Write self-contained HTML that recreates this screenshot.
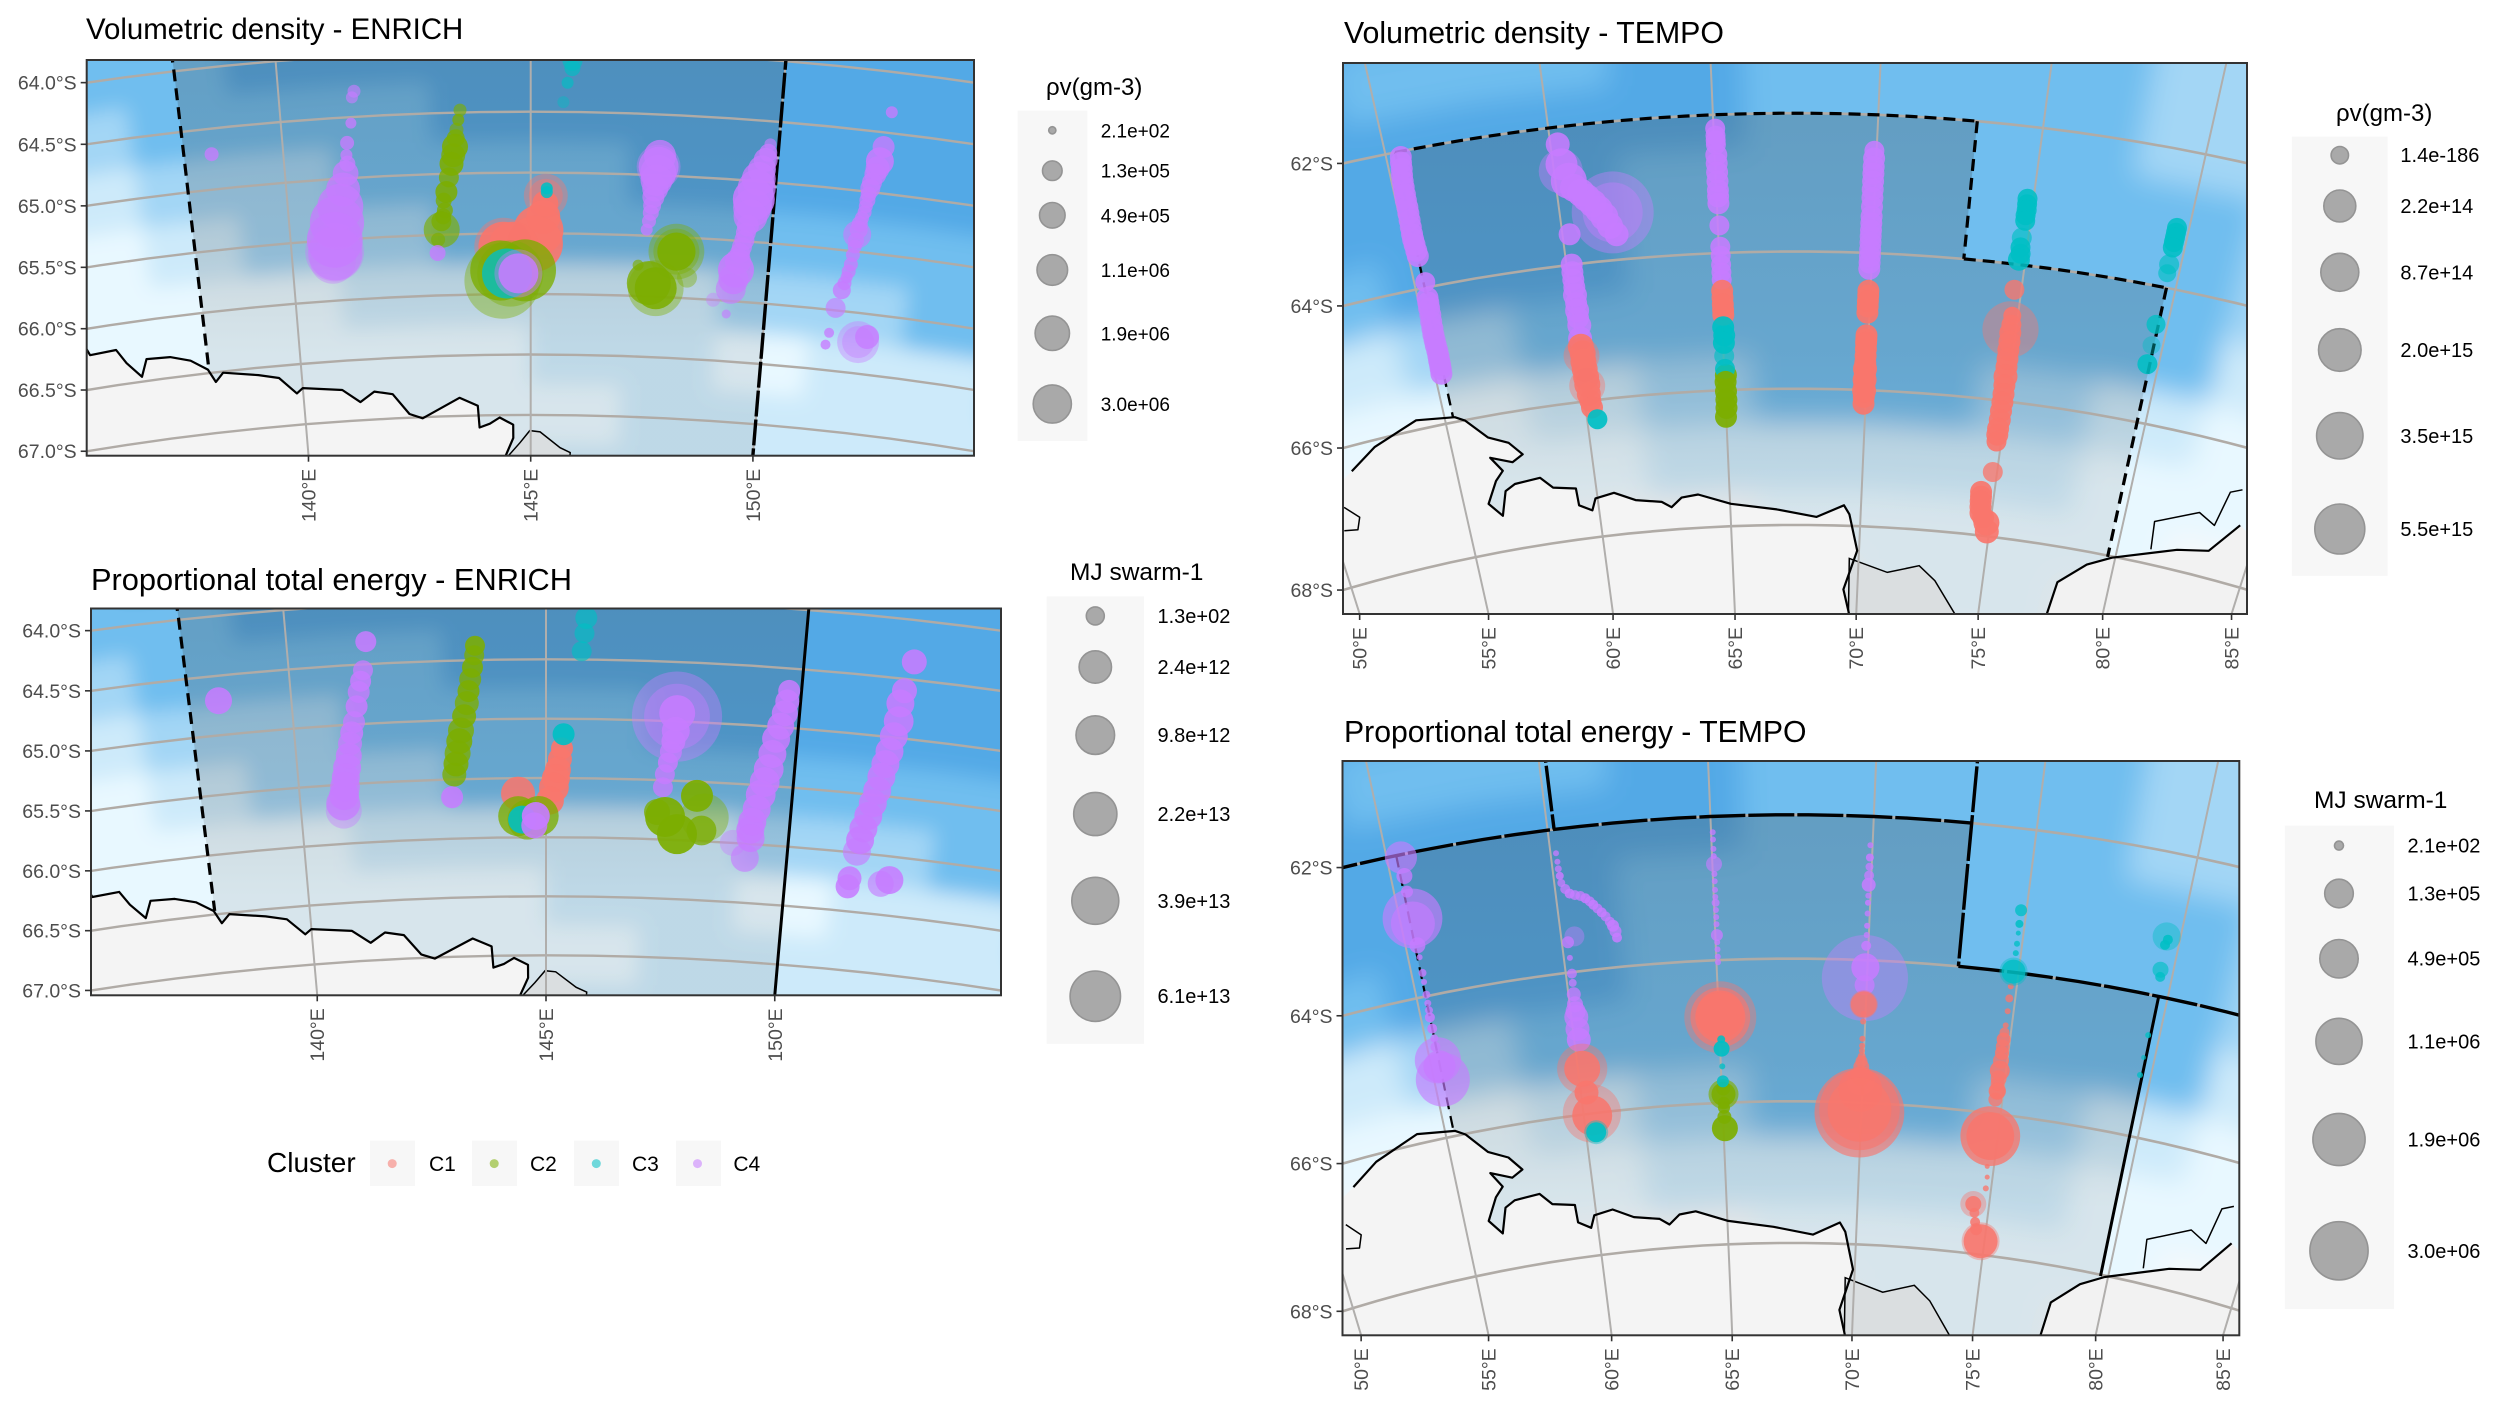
<!DOCTYPE html>
<html lang="en">
<head>
<meta charset="utf-8">
<title>Volumetric density and proportional total energy - ENRICH and TEMPO</title>
<style>
html,body{margin:0;padding:0;background:#fff;}
svg{display:block;font-family:"Liberation Sans",sans-serif;}
</style>
</head>
<body>
<svg id="figure" xmlns="http://www.w3.org/2000/svg" width="2500" height="1409" viewBox="0 0 2500 1409">
<defs>
<clipPath id="clip-p1"><rect x="86.7" y="60" width="887.3" height="395.7"/></clipPath>
<clipPath id="clip-p2"><rect x="91" y="608.5" width="910" height="386.8"/></clipPath>
<clipPath id="clip-p3"><rect x="1343" y="63" width="904" height="551"/></clipPath>
<clipPath id="clip-p4"><rect x="1342.5" y="761" width="896.8" height="574.3"/></clipPath>
<filter id="soft-enrich" x="-5%" y="-5%" width="110%" height="110%"><feGaussianBlur stdDeviation="10"/></filter>
<filter id="soft-tempo" x="-5%" y="-5%" width="110%" height="110%"><feGaussianBlur stdDeviation="14"/></filter>
<linearGradient id="box-shade" x1="0" y1="0" x2="0" y2="1">
<stop offset="0" stop-color="#3c3c3c" stop-opacity="0.25"/>
<stop offset="0.45" stop-color="#3c3c3c" stop-opacity="0.18"/>
<stop offset="0.7" stop-color="#3c3c3c" stop-opacity="0.1"/>
<stop offset="1" stop-color="#3c3c3c" stop-opacity="0.1"/>
</linearGradient>
</defs>
<rect x="0" y="0" width="2500" height="1409" fill="#ffffff"/>

<text x="86" y="39" font-size="29.4" fill="#000">Volumetric density - ENRICH</text>
<text x="91" y="590" font-size="30.8" fill="#000">Proportional total energy - ENRICH</text>
<text x="1344" y="43" font-size="30.3" fill="#000">Volumetric density - TEMPO</text>
<text x="1344" y="742" font-size="30.2" fill="#000">Proportional total energy - TEMPO</text>

<text x="1046" y="95" font-size="24" fill="#000">ρv(gm-3)</text>
<text x="1070" y="580" font-size="24.5" fill="#000">MJ swarm-1</text>
<text x="2336" y="121" font-size="24" fill="#000">ρv(gm-3)</text>
<text x="2314" y="808" font-size="24.5" fill="#000">MJ swarm-1</text>

<g>
<text x="267" y="1172" font-size="28" fill="#000">Cluster</text>
<rect x="370" y="1140.6" width="45" height="45.4" fill="#f7f7f7"/>
<circle cx="392.2" cy="1163.6" r="4.5" fill="#F8766D" fill-opacity="0.55"/>
<text x="429" y="1171" font-size="21" fill="#000">C1</text>
<rect x="472" y="1140.6" width="45" height="45.4" fill="#f7f7f7"/>
<circle cx="494.2" cy="1163.6" r="4.5" fill="#7CAE00" fill-opacity="0.55"/>
<text x="530" y="1171" font-size="21" fill="#000">C2</text>
<rect x="574" y="1140.6" width="45" height="45.4" fill="#f7f7f7"/>
<circle cx="596.3" cy="1163.6" r="4.5" fill="#00BFC4" fill-opacity="0.55"/>
<text x="632" y="1171" font-size="21" fill="#000">C3</text>
<rect x="676" y="1140.6" width="45" height="45.4" fill="#f7f7f7"/>
<circle cx="697.5" cy="1163.6" r="4.5" fill="#C77CFF" fill-opacity="0.55"/>
<text x="733.4" y="1171" font-size="21" fill="#000">C4</text>
</g>
</svg>

<script>
/* ---------- cluster and tone tables ---------- */
const clusterNames = ['C1','C2','C3','C4'];
const clusterColors = ['#F8766D','#7CAE00','#00BFC4','#C77CFF'];
const seaPalette = ['#52a9e6','#6fbeef','#a3d6f5','#cdeafa','#e8f8ff','#f7f9fa'];

/* ---------- sea-ice background tone (index into seaPalette), columns by longitude, rows by latitude ---------- */
const enrichGridLons = [134,136,138,140,142,144,146,148,150,152,154,156];
const enrichGridLats = [63.5,64,64.5,65,65.5,66,66.5,67,67.5];
const enrichGridTone = [
 [1,1,0,0,0,0,0,0,0,0,0,0],
 [1,1,1,0,0,0,0,0,0,0,0,0],
 [2,2,1,1,1,0,0,0,0,0,0,0],
 [3,3,2,2,1,1,1,0,0,0,0,0],
 [4,4,3,2,2,1,1,1,1,1,1,0],
 [4,4,4,4,3,3,3,3,2,2,1,1],
 [4,4,4,4,4,4,3,3,4,3,3,2],
 [5,5,4,4,4,4,4,3,3,3,3,3],
 [5,5,5,4,4,4,3,3,3,3,4,4]
];
const tempoGridLons = [48,52,56,60,64,68,72,76,80,84,88];
const tempoGridLats = [60,61,62,63,64,65,66,67,68,69,70];
const tempoGridTone = [
 [0,0,0,0,0,1,1,1,2,3,3],
 [0,0,1,1,0,1,1,1,2,3,3],
 [0,0,0,0,0,1,1,1,2,2,3],
 [0,0,0,0,1,1,1,1,1,2,2],
 [1,1,0,0,1,1,1,1,1,2,3],
 [3,3,2,1,1,1,1,1,1,3,3],
 [4,4,4,3,2,1,1,2,3,4,4],
 [5,5,4,4,3,3,3,3,4,4,4],
 [5,5,5,5,5,4,4,4,4,5,5],
 [5,5,5,5,5,5,4,4,5,5,5],
 [5,5,5,5,5,5,5,5,5,5,5]
];

/* ---------- coastlines in degrees (longitude east, latitude south) ---------- */
const enrichCoastLon = [135.4,135.5,136.07,136.25,136.54,136.69,137.2,137.63,137.98,138.12,138.3,139.06,139.5,139.86,140,140.86,141.24,141.56,141.96,142.31,142.6,143.43,143.83,143.86,144.09,144.31,144.61,144.61,144.42];
const enrichCoastLat = [66.12,66.22,66.21,66.33,66.46,66.32,66.33,66.38,66.47,66.58,66.51,66.56,66.6,66.74,66.7,66.74,66.85,66.77,66.8,66.97,67.01,66.85,66.92,67.1,67.07,67.02,67.08,67.19,67.35];
const enrichIslandLon = [144.49,144.76,144.98,145.21,145.66,145.89,145.85,144.42];
const enrichIslandLat = [67.34,67.23,67.13,67.14,67.27,67.31,67.6,67.6];
const tempoWestCoastLon = [51.3,52.34,54,55.36,55.7,56.37,57.07,57.5,57.08,56.31,56.67,56.35,55.91,56.35,56.63,57.02,57.98,58.4,59.24,59.27,59.74,59.92,60.64,61.42,62.4,62.76,63.17,63.8,65.03,66.78,68.31,69.35,69.57,69.93,69.44,69.7];
const tempoWestCoastLat = [66.36,66.1,65.86,65.93,66.01,66.31,66.44,66.64,66.73,66.61,66.83,66.96,67.27,67.48,67.13,67.05,67.02,67.19,67.25,67.5,67.6,67.43,67.38,67.52,67.58,67.67,67.54,67.51,67.67,67.77,67.88,67.7,67.83,68.36,68.94,69.29];
const tempoEastCoastLon = [77.78,77.96,78.97,79.87,82.25,83.43,84.3];
const tempoEastCoastLat = [69,68.52,68.19,68.02,67.7,67.6,67.12];
const tempoInlandLon = [81.27,81.15,82.7,83.37,83.6,84];
const tempoInlandLat = [67.78,67.37,67.09,67.22,66.69,66.61];
const tempoWestInlandLon = [50.65,51.1,50.9,50.4];
const tempoWestInlandLat = [66.84,67.04,67.21,67.17];
const tempoIslandLon = [69.63,71.17,72.42,73.1,74.03,74.1,69.7];
const tempoIslandLat = [68.48,68.66,68.53,68.73,69.18,69.6,69.6];

/* ---------- axis ticks ---------- */
const enrichLatTicks = [64,64.5,65,65.5,66,66.5,67];
const enrichLatLabels = ['64.0°S','64.5°S','65.0°S','65.5°S','66.0°S','66.5°S','67.0°S'];
const enrichLonTicks = [140,145,150];
const enrichLonLabels = ['140°E','145°E','150°E'];
const tempoLatTicks = [62,64,66,68];
const tempoLatLabels = ['62°S','64°S','66°S','68°S'];
const tempoLonTicks = [50,55,60,65,70,75,80,85];
const tempoLonLabels = ['50°E','55°E','60°E','65°E','70°E','75°E','80°E','85°E'];

/* ---------- size legends ---------- */
const densityEnrichLegendValues = [2.1e2,1.3e5,4.9e5,1.1e6,1.9e6,3.0e6];
const densityEnrichLegendLabels = ['2.1e+02','1.3e+05','4.9e+05','1.1e+06','1.9e+06','3.0e+06'];
const energyEnrichLegendValues = [1.3e2,2.4e12,9.8e12,2.2e13,3.9e13,6.1e13];
const energyEnrichLegendLabels = ['1.3e+02','2.4e+12','9.8e+12','2.2e+13','3.9e+13','6.1e+13'];
const densityTempoLegendValues = [1.4e-186,2.2e14,8.7e14,2.0e15,3.5e15,5.5e15];
const densityTempoLegendLabels = ['1.4e-186','2.2e+14','8.7e+14','2.0e+15','3.5e+15','5.5e+15'];
const energyTempoLegendValues = [2.1e2,1.3e5,4.9e5,1.1e6,1.9e6,3.0e6];
const energyTempoLegendLabels = ['2.1e+02','1.3e+05','4.9e+05','1.1e+06','1.9e+06','3.0e+06'];

/* ---------- Volumetric density - ENRICH: longitude, latitude, density, overlapping pings, cluster ---------- */
const densityEnrichLon = [
 141.28,
 143.55,143.49,143.43,143.33,143.21,143.19,
 147.62,147.6,147.55,147.5,147.45,
 149.8,149.7,149.62,149.56,149.47,149.41,149.35,149.28,
 152.1,152.03,151.95,151.91,151.88,151.83,151.79,151.76,151.73,151.68,151.62,

 138.56,141.5,141.45,141.4,141.3,141.27,141.23,141.16,141.08,140.99,140.92,140.91,140.85,140.9,
 143.59,143.51,143.47,143.39,143.27,143.23,143.15,143.15,143.07,143.05,
 145.31,145.31,145.3,145.26,145.16,145.09,144.64,144.43,144.43,
 144.4,144.57,144.36,144.88,144.5,144.74,144.74,145.33,145.33,
 145.82,145.82,145.73,145.65,
 147.6,147.6,147.57,147.52,147.48,147.41,
 148.05,148.05,148.05,147.26,148.3,147.65,147.65,147.5,
 149.83,149.76,149.65,149.58,149.54,149.5,149.45,149.38,149.32,149.24,148.88,149.18,
 152.18,152.06,152,151.93,151.9,151.87,151.8,151.77,151.75,151.71,151.65,151.58,151.49,151.41,151.36,152.05,152.05,152.23];
const densityEnrichLat = [
 64.88,
 64.56,64.71,64.85,65.03,65.22,65.35,
 64.84,64.98,65.11,65.25,65.38,
 64.76,64.9,65.06,65.22,65.43,65.55,65.67,65.82,
 64.62,64.8,64.92,65.02,65.12,65.22,65.32,65.41,65.53,65.67,65.77,

 64.71,64.29,64.34,64.55,64.71,64.81,64.96,65.09,65.23,65.36,65.5,65.61,65.67,65.6,
 64.48,64.64,64.78,64.92,65.15,65.3,65.39,65.46,65.54,65.65,
 65.19,65.19,65.255,65.365,65.475,65.585,65.61,65.61,65.61,
 65.89,65.83,65.805,65.805,65.83,65.83,65.83,65.13,65.16,
 64.08,64.14,64.26,64.42,
 64.93,64.93,65.04,65.18,65.31,65.45,
 65.62,65.62,65.62,65.745,65.83,65.93,65.93,65.89,
 64.69,64.82,64.98,65.15,65.29,65.37,65.49,65.6,65.74,65.9,66,66.11,
 64.33,64.74,64.85,64.97,65.07,65.17,65.27,65.36,65.46,65.61,65.72,65.83,65.98,66.19,66.29,66.24,66.24,66.19];
const densityEnrichValue = [
 4.6e4,
 9.1e3,8.5e4,3.5e5,1.45e5,4.6e4,4.6e4,
 1.36e6,2.3e6,5.2e5,8.5e4,2.2e4,
 8.5e4,7.4e5,3e6,3e6,1.45e5,1.45e5,5.2e5,1e6,
 2.3e5,3.5e5,1.45e5,4.6e4,2.2e4,2.2e4,8.5e4,4.6e4,2.2e4,2.2e4,2.2e4,

 2.2e4,1.5e4,9.1e3,5.3e3,2.2e4,9.1e3,5e5,1.8e6,6.9e6,1.4e7,1.6e7,1.4e7,6.9e6,2e7,
 1.5e4,2.2e4,5.2e5,3.5e5,2.3e5,4.6e4,1.45e5,2.3e6,2.2e4,4.6e4,
 5.7e6,1.8e6,5.2e5,1.8e6,9.9e6,1.6e7,9.9e6,9.9e6,1.9e7,
 5.9e7,3.3e7,2.2e7,2.5e7,9.9e6,8.3e6,3.7e6,9.1e3,9.1e3,
 1.45e5,4.6e4,9.1e3,9.1e3,
 5.7e6,3.7e6,1.36e6,2.3e5,4.6e4,9.1e3,
 1.6e7,6.9e6,3e6,5.3e3,1.45e5,1.6e7,4.6e6,5.7e6,
 9.1e3,3.5e5,1.8e6,4.6e6,1.8e6,2.3e5,1.45e5,1.45e5,2.3e6,1e6,2.2e4,1.4e3,
 9.1e3,7.4e5,2.3e5,1.45e5,4.6e4,2.2e4,4.6e4,7.4e5,2.2e4,2.2e4,9.1e3,8.5e4,1.45e5,2.9e3,2.9e3,4.6e6,1.36e6,3.5e5];
const densityEnrichPings = [
 3,
 3,3,3,3,3,3,
 3,3,3,3,3,
 3,3,3,3,3,3,3,3,
 3,3,3,3,3,3,3,3,3,3,3,

 3,2,2,3,3,3,3,3,3,3,3,2,1,1,
 2,2,4,4,4,3,3,2,2,3,
 1,1,5,5,5,5,5,5,1,
 1,1,3,3,3,1,4,4,4,
 2,2,2,1,
 1,3,3,3,3,3,
 1,1,5,2,1,1,4,3,
 2,3,3,4,3,3,3,3,4,2,1,2,
 3,4,3,3,3,3,3,2,3,3,3,3,2,3,3,1,1,3];
const densityEnrichCluster = [
 4,
 2,2,2,2,2,2,
 4,4,4,4,4,
 4,4,4,4,4,4,4,4,
 4,4,4,4,4,4,4,4,4,4,4,

 4,4,4,4,4,4,4,4,4,4,4,4,4,4,
 2,2,2,2,2,2,2,2,2,4,
 1,1,1,1,1,1,1,1,1,
 2,2,2,2,3,4,4,3,3,
 3,3,3,3,
 4,4,4,4,4,4,
 2,2,2,2,2,2,2,2,
 4,4,4,4,4,4,4,4,4,4,4,4,
 4,4,4,4,4,4,4,4,4,4,4,4,4,4,4,4,4,4];

/* ---------- Proportional total energy - ENRICH ---------- */
const energyEnrichLon = [
 141.38,141.27,141.14,141.05,140.96,140.9,
 143.63,143.57,143.48,143.38,143.27,143.19,
 145.28,145.2,
 147.54,147.45,
 149.74,149.65,149.53,149.42,149.3,149.2,
 152,151.9,151.8,151.7,151.58,151.47,

 138.58,
 141.53,141.44,141.33,141.2,141.09,141,140.93,140.87,140.87,
 143.61,143.52,143.44,143.31,143.23,143.15,143.09,
 145.32,145.24,145.16,145.08,144.43,145.35,
 144.43,144.85,144.62,144.51,144.79,144.76,
 147.59,147.59,147.59,147.58,147.5,147.4,147.37,
 148.07,148.25,147.44,147.7,147.27,148.2,
 149.76,149.71,149.58,149.48,149.36,149.23,149.22,149.13,148.86,
 152.12,151.95,151.96,151.85,151.75,151.64,151.51,151.43,151.34,151.32,152.17,152,
 145.77,145.74,145.69];
const energyEnrichLat = [
 64.64,64.85,65.07,65.26,65.44,65.59,
 64.38,64.56,64.76,64.97,65.18,65.37,
 65.34,65.5,
 65.17,65.35,
 64.78,64.99,65.23,65.47,65.7,65.88,
 64.6,64.99,65.23,65.46,65.68,65.89,

 64.71,
 64.31,64.55,64.73,64.98,65.16,65.36,65.52,65.66,65.72,
 64.46,64.66,64.86,65.09,65.28,65.46,65.65,
 65.25,65.43,65.58,65.69,65.63,65.13,
 65.82,65.82,65.85,65.85,65.82,65.9,
 64.96,64.96,64.93,65.08,65.26,65.45,65.56,
 65.62,65.8,65.81,65.95,65.77,65.91,
 64.69,64.88,65.1,65.36,65.58,65.81,65.95,66.12,66,
 64.35,64.71,64.86,65.12,65.34,65.57,65.79,65.99,66.22,66.29,66.2,66.24,
 64.15,64.28,64.43];
const energyEnrichValue = [
 4.5e9,1.4e10,3.5e10,2.3e11,5.5e11,1.1e12,
 8.8e8,4.5e9,1.4e10,7.2e10,2.3e11,1.3e11,
 7.2e10,5.5e11,
 7.2e10,8.8e8,
 7.2e10,3.6e11,5.5e11,1.1e12,5.5e11,5.5e11,
 1.3e11,5.5e11,5.5e11,5.5e11,5.5e11,5.5e11,

 3.6e11,
 4.5e9,8.8e8,1.4e10,1.4e10,7.2e10,5.5e11,1.1e12,3.6e12,5.8e12,
 8.8e8,1.4e10,7.2e10,2.3e11,2.3e11,7.2e10,1.4e10,
 1.4e10,2.3e11,1.1e12,5.5e11,3.6e12,1.4e10,
 1.3e13,1.3e13,1.3e13,5.5e11,5.5e11,2.3e11,
 1.5e15,2.9e14,5.8e12,5.5e11,1.4e10,8.8e8,8.8e8,
 2.1e12,4.5e13,1.3e13,1.3e13,2.3e11,1.1e12,
 1.4e10,2.3e11,5.5e11,1.1e12,1.1e12,5.5e11,5.5e11,5.5e11,2.3e11,
 1.3e11,5.5e11,1.1e12,5.5e11,5.5e11,5.5e11,5.5e11,5.5e11,7.2e10,7.2e10,5.5e11,2.3e11,
 1.4e10,8.8e8,8.8e8];
const energyEnrichPings = [
 4,4,4,4,4,4,
 4,4,4,4,4,4,
 5,5,
 4,4,
 4,4,4,4,4,4,
 4,4,4,4,4,4,

 4,
 4,3,3,3,3,4,3,3,1,
 3,3,3,3,3,3,4,
 5,5,5,5,4,5,
 3,3,2,4,5,4,
 1,1,4,4,3,3,3,
 5,1,5,5,3,3,
 4,4,4,4,4,4,3,2,1,
 4,4,4,4,4,4,4,2,4,4,4,2,
 2,2,2];
const energyEnrichCluster = [
 4,4,4,4,4,4,
 2,2,2,2,2,2,
 1,1,
 4,4,
 4,4,4,4,4,4,
 4,4,4,4,4,4,

 4,
 4,4,4,4,4,4,4,4,4,
 2,2,2,2,2,2,4,
 1,1,1,1,1,3,
 2,2,2,3,4,4,
 4,4,4,4,4,4,4,
 2,2,2,2,2,2,
 4,4,4,4,4,4,4,4,4,
 4,4,4,4,4,4,4,4,4,4,4,4,
 3,3,3];

/* ---------- Volumetric density - TEMPO ---------- */
const densityTempoLon = [
 55.41,55.36,55.33,55.31,55.3,55.28,55.27,55.29,55.31,55.29,55.26,55.25,55.26,55.25,55.24,
 60.55,60.9,61.25,61.55,60.16,60.16,60.15,60.15,60.13,
 60.15,60.15,60.17,60.2,
 65.05,65.05,65.05,65.05,65.05,65.05,
 65.05,65.05,
 65.05,
 65.05,
 69.93,69.93,69.93,69.93,69.93,69.93,69.93,69.93,
 69.93,69.93,69.93,69.93,69.93,69.93,69.93,69.93,
 74.82,74.82,74.82,
 74.82,74.83,74.84,74.85,74.86,74.85,74.83,74.52,74.55,74.7,
 79.62,79.62,

 55.44,55.39,55.34,55.32,55.31,55.29,55.27,55.28,55.3,55.36,55.32,55.3,55.27,55.25,55.25,55.26,55.25,55.23,
 60.22,60.26,60.42,60.21,61.68,61.68,60.75,61.08,61.4,61.73,60.23,60.17,60.16,60.15,60.15,60.16,
 60.12,60.1,60.14,60.16,60.16,60.18,60.23,60.37,
 65.05,65.05,65.05,65.05,65.05,65.05,65.05,65.05,65.05,65.05,65.05,
 65.05,65.05,65.05,65.03,65.03,65.02,65.03,65.03,65.03,65.03,65.02,64.99,
 69.93,69.93,69.93,69.93,69.93,69.93,69.93,69.93,69.93,
 69.93,69.93,69.93,69.93,69.93,69.93,69.93,69.93,69.93,69.93,
 74.81,74.83,74.83,74.79,74.79,74.79,74.77,74.81,74.81,74.82,74.83,74.84,74.85,74.86,74.85,74.83,74.83,
 74.84,74.5,74.53,74.58,74.85,74.91,
 79.62,79.62,79.62,79.62,79.62,79.62,79.62,79.62];
const densityTempoLat = [
 62.16,62.34,62.52,62.71,62.9,63.1,63.28,63.45,64.22,64.4,64.6,64.77,64.93,65.08,65.2,
 62.9,63.06,63.25,63.5,64.11,64.33,64.56,64.78,65.08,
 65.3,65.53,65.76,66,
 62.37,62.7,62.96,63.18,64.04,64.28,
 64.65,64.83,
 65.2,
 65.78,
 62.63,62.85,63.08,63.33,63.57,63.76,63.95,64.14,
 64.62,64.78,65.26,65.4,65.6,65.77,65.93,66.1,
 63.12,63.28,63.84,
 65,65.25,65.5,65.77,66.02,66.28,66.5,67.43,67.58,67.73,
 63.19,63.33,

 62.08,62.25,62.43,62.62,62.81,63,63.2,63.36,63.53,63.92,64.15,64.3,64.5,64.69,64.85,65.01,65.14,65.27,
 62.25,62.54,62.79,62.64,63.31,63.31,62.98,63.15,63.36,63.63,63.56,64,64.22,64.445,64.67,64.89,
 65.2,65.33,65.42,65.65,65.78,65.9,66.1,66.28,
 62.2,62.3,62.43,62.58,62.83,63.09,63.28,63.6,63.91,64.17,64.39,
 64.55,64.75,64.9,65.08,65.31,65.5,65.69,65.88,66.02,66.14,66.26,66.39,
 62.52,62.75,62.96,63.2,63.47,63.67,63.85,64.05,64.23,
 64.55,64.7,64.87,65.2,65.31,65.5,65.69,65.85,66.01,66.2,
 63.04,63.2,63.36,63.61,63.75,63.93,64.37,64.95,64.75,64.88,65.13,65.38,65.64,65.9,66.15,66.41,66.6,
 67.05,67.36,67.5,67.67,67.8,67.93,
 63.12,63.26,63.41,63.66,63.79,64.55,64.86,65.14];
const densityTempoValue = [
 2.2e12,2.2e12,2.2e12,2.2e12,2.2e12,2.2e12,2.2e12,2.2e12,2.2e12,2.2e12,2.2e12,2.2e12,2.2e12,2.2e12,2.2e12,
 6.2e13,6.2e13,6.2e13,2.7e13,2.2e12,2.2e12,2.2e12,2.2e12,9.3e12,
 2.7e13,2.7e13,2.7e13,2.2e12,
 2.2e11,2.2e12,2.2e12,2.2e12,2.2e11,2.2e11,
 2.2e12,2.2e12,
 2.2e12,
 2.2e12,
 2.2e12,2.2e12,2.2e12,2.2e12,2.2e12,2.2e12,2.2e12,2.2e12,
 2.2e12,2.2e12,2.2e12,2.2e12,2.2e12,2.2e12,2.2e12,2.2e12,
 2.2e11,2.2e11,2.2e11,
 2.2e12,2.2e12,2.2e12,2.2e12,2.2e12,2.2e12,2.2e12,2.2e12,2.2e12,2.2e12,
 2.2e11,2.2e11,

 2.2e12,2.2e12,2.2e12,2.2e12,2.2e12,2.2e12,2.2e12,2.2e12,2.2e12,2.2e11,2.2e12,2.2e12,2.2e12,2.2e12,2.2e12,2.2e12,2.2e12,2.2e12,
 9.3e12,2.2e14,5.9e14,2.5e15,8.5e16,1.6e16,6.2e13,6.2e13,6.2e13,9.3e12,2.2e12,2.2e12,2.2e12,9.3e12,9.3e12,9.3e12,
 2.7e13,5.9e14,2.7e13,2.7e13,5.9e14,9.3e12,2.2e12,2.2e11,
 2.2e11,2.2e11,2.2e11,2.2e12,2.2e12,2.2e12,2.2e12,2.2e11,2.2e11,2.2e11,2.2e11,
 2.2e12,2.2e12,2.2e12,2.2e12,2.2e12,2.2e11,2.2e11,2.2e12,2.2e12,2.2e12,2.2e12,2.2e12,
 2.2e11,2.2e12,2.2e12,2.2e12,2.2e12,2.2e12,2.2e12,2.2e12,2.2e12,
 2.2e12,2.2e12,2.2e12,2.2e12,2.2e12,2.2e12,9.3e12,9.3e12,9.3e12,2.2e12,
 2.2e11,2.2e11,2.2e11,2.2e11,2.2e11,2.2e12,2.2e11,1.1e16,6.4e8,2.2e11,2.2e12,2.2e12,9.3e12,2.2e12,2.2e12,2.2e12,2.2e11,
 2.2e11,2.2e12,2.2e12,2.2e12,2.7e13,9.3e12,
 2.2e11,2.2e11,2.2e11,2.2e11,6.4e8,3.2e10,6.4e8,2.2e11];
const densityTempoPings = [
 4,4,4,4,4,4,4,4,4,4,4,4,4,4,4,
 4,4,4,4,4,4,4,4,4,
 5,5,5,5,
 4,4,4,4,4,4,
 5,5,
 5,
 5,
 4,4,4,4,4,4,4,4,
 5,5,5,5,5,5,5,5,
 4,4,4,
 5,5,5,5,5,5,5,5,5,5,
 4,4,

 4,4,4,4,4,4,4,4,4,4,4,4,4,4,4,4,4,4,
 4,4,4,1,1,1,4,4,4,4,4,4,4,4,4,4,
 5,1,5,5,1,5,5,5,
 4,4,4,4,4,4,4,4,4,4,4,
 5,5,5,5,5,2,4,5,5,5,5,5,
 4,4,4,4,4,4,4,4,4,
 5,5,5,5,5,5,5,5,5,5,
 4,4,4,2,4,4,3,1,5,5,5,5,5,5,5,5,5,
 3,5,5,5,5,5,
 4,4,4,2,2,3,1,4];
const densityTempoCluster = [
 4,4,4,4,4,4,4,4,4,4,4,4,4,4,4,
 4,4,4,4,4,4,4,4,4,
 1,1,1,1,
 4,4,4,4,4,4,
 1,1,
 3,
 2,
 4,4,4,4,4,4,4,4,
 1,1,1,1,1,1,1,1,
 3,3,3,
 1,1,1,1,1,1,1,1,1,1,
 3,3,

 4,4,4,4,4,4,4,4,4,4,4,4,4,4,4,4,4,4,
 4,4,4,4,4,4,4,4,4,4,4,4,4,4,4,4,
 1,1,1,1,1,1,1,3,
 4,4,4,4,4,4,4,4,4,4,4,
 1,1,1,3,3,3,3,2,2,2,2,2,
 4,4,4,4,4,4,4,4,4,
 1,1,1,1,1,1,1,1,1,1,
 3,3,3,3,3,3,1,1,1,1,1,1,1,1,1,1,1,
 1,1,1,1,1,1,
 3,3,3,3,3,3,3,3];

/* ---------- Proportional total energy - TEMPO ---------- */
const energyTempoLon = [
 55.37,55.35,55.33,55.32,55.3,55.28,
 60.18,60.18,60.22,60.32,60.6,60.77,61.05,61.27,61.5,61.62,61.77,60.2,60.19,60.18,60.17,60.16,
 65.05,65.05,65.05,65.05,65.05,65.05,65.05,65.05,65.05,
 65.05,65.05,65.05,
 69.93,69.93,69.93,69.93,69.93,69.93,
 69.93,69.93,69.93,69.93,69.93,69.93,
 74.83,74.83,
 74.8,74.8,74.79,74.78,74.78,74.78,74.77,74.76,74.75,
 74.75,74.8,74.48,74.62,

 55.43,55.42,55.4,55.4,55.38,55.38,55.36,55.34,55.3,55.3,55.27,55.28,55.3,
 60.17,60.2,60.44,60.92,61.15,61.39,61.71,61.8,60.43,60.2,60.2,60.18,60.17,60.16,
 60.15,60.15,60.2,60.3,60.3,60.37,60.37,
 65.05,65.05,65.05,65.05,65.05,65.05,65.05,65.05,65.05,
 65.05,65.05,65.05,65.05,
 65.05,65.05,65.05,65.05,65.05,65.05,65.05,65.05,
 69.93,69.93,69.93,69.93,69.93,69.93,69.93,69.93,
 69.93,69.93,69.93,69.93,69.93,69.93,69.93,69.93,69.93,69.93,
 74.83,74.83,74.83,74.83,74.83,
 74.8,74.78,74.78,74.78,74.78,74.78,74.73,74.73,74.8,74.4,74.4,74.55,74.85,74.85,
 79.56,79.56,79.58,79.62,79.62,79.62,79.62,79.62];
const energyTempoLat = [
 63.45,63.8,64.1,64.2,64.6,64.72,
 62.45,62.55,62.75,62.84,62.94,62.96,63.05,63.16,63.28,63.36,63.5,63.8,64.15,64.45,64.55,64.8,
 62.32,62.55,62.8,63.02,63.12,63.3,63.5,63.75,63.95,
 65.8,66,66.2,
 62.4,62.7,62.82,63.1,63.35,63.65,
 64.75,65.1,65.2,65.35,65.5,65.7,
 63.45,63.6,
 64.2,64.55,64.75,64.85,65.05,65.25,65.5,65.58,65.8,
 66.75,66.9,67.42,67.65,

 62.04,62.3,62.52,62.9,62.97,63.28,63.67,63.98,64.3,64.46,64.91,65,65.19,
 62.33,62.65,62.91,63,63.1,63.22,63.42,63.59,63.51,63.58,64.02,64.31,64.63,64.95,
 65.36,65.36,65.7,66,66.03,66.27,66.27,
 62.22,62.45,62.66,62.9,63.2,63.4,63.65,63.85,64.03,
 64.8,64.8,64.76,64.8,
 65.11,65.24,65.49,65.88,65.88,66.07,66.36,65.7,
 62.57,62.95,63.2,63.52,63.8,64.25,64.1,64.35,
 64.62,64.62,64.86,65.27,65.42,65.62,65.82,66.14,66.1,66.1,
 63.13,63.32,63.73,63.99,63.99,
 64.37,64.95,65.14,65.39,65.68,65.68,66.32,66.32,67.06,67.3,67.3,67.55,67.81,67.81,
 63.16,63.28,63.63,63.73,63.2,64.56,64.88,65.13];
const energyTempoValue = [
 5.6,5.6,28,90,90,450,
 5.6,28,90,450,450,450,450,450,450,450,1.4e3,5.6,90,7.3e3,2.3e4,5.6e4,
 5.6,5.6,5.6,5.6,5.6,5.6,5.6,5.6,5.6,
 3.5e3,1.4e3,3.5e3,
 5.6,90,450,5.6,5.6,5.6,
 5.6,5.6,5.6,90,7.3e3,1.2e5,
 0.35,5.6,
 5.6,5.6,5.6,450,3.5e3,7.3e3,7.3e3,3.5e3,3.5e3,
 0.35,0.35,450,1.4e3,

 2.2e5,7.3e3,1.4e3,3.4e6,9e5,7.3e3,90,90,450,450,1.1e6,2.2e5,2.2e6,
 5.6,90,450,450,450,450,1.4e3,450,2.3e4,1.4e3,450,3.5e3,5.6e4,5.6e4,
 1.6e6,3.7e5,5.6e4,3e6,5.9e5,5.6e4,2.3e4,
 5.6,5.6,7.3e3,5.6,90,5.6,1.4e3,5.6,5.6,
 7.5e6,3.4e6,1.3e6,1.6e6,
 90,7.3e3,5.6,1.6e5,5.6e4,1.4e3,8.2e4,1.4e3,
 90,3.5e3,5.6,5.6,450,1.6e7,1.2e5,2.3e4,
 8.2e4,1.2e5,5.6,5.6,1.4e3,2.3e4,9e5,1.9e7,1.2e7,4.5e6,
 1.4e3,90,5.6,5.6e4,1.2e5,
 90,3.5e3,3.5e3,2.3e4,1.1e4,7.3e3,3.4e6,1.3e6,5.6,8.2e4,7.3e3,450,4.7e5,2.8e5,
 1.2e5,450,7.3e3,450,450,5.6,0.35,5.6];
const energyTempoPings = [
 3,3,3,3,3,3,
 3,3,3,3,3,3,3,3,3,3,3,3,3,3,3,3,
 3,3,3,3,3,3,3,3,3,
 4,4,4,
 3,3,3,3,3,3,
 3,3,3,3,3,3,
 3,3,
 3,3,3,3,3,3,3,3,3,
 3,3,3,3,

 2,3,3,2,2,3,3,3,4,4,2,3,2,
 3,4,4,4,4,4,4,4,1,3,3,3,3,4,
 1,4,4,1,4,1,5,
 3,3,2,3,3,3,3,3,3,
 1,2,4,4,
 4,5,3,2,4,4,5,4,
 4,4,4,4,4,1,4,3,
 3,1,3,3,3,3,3,2,2,3,
 3,4,3,3,1,
 3,4,4,4,3,3,3,4,3,1,4,4,1,4,
 1,4,2,3,4,3,2,3];
const energyTempoCluster = [
 4,4,4,4,4,4,
 4,4,4,4,4,4,4,4,4,4,4,4,4,4,4,4,
 4,4,4,4,4,4,4,4,4,
 2,2,2,
 4,4,4,4,4,4,
 1,1,1,1,1,1,
 3,3,
 1,1,1,1,1,1,1,1,1,
 1,1,1,1,

 4,4,4,4,4,4,4,4,4,4,4,4,4,
 4,4,4,4,4,4,4,4,4,4,4,4,4,4,
 1,1,1,1,1,3,3,
 4,4,4,4,4,4,4,4,4,
 1,1,1,1,
 3,3,3,2,2,2,2,3,
 4,4,4,4,4,4,4,4,
 1,1,1,1,1,1,1,1,1,1,
 3,3,3,3,3,
 1,1,1,1,1,1,1,1,1,1,1,1,1,1,
 3,3,3,3,3,3,3,3];

/* ---------- helpers ---------- */
const SVGNS = 'http://www.w3.org/2000/svg';
const svg = document.getElementById('figure');
const RAD = Math.PI / 180;
const BASE_MARGIN = 40;

function make(tag, attrs, parent) {
  const node = document.createElementNS(SVGNS, tag);
  for (const k in attrs) node.setAttribute(k, attrs[k]);
  parent.appendChild(node);
  return node;
}
function rho(lat) { return 2 * Math.tan((90 - lat) / 2 * RAD); }
function projectX(p, lon, lat) {
  return p.x0 + p.ax * rho(lat) * Math.sin((lon - p.lon0) * RAD);
}
function projectY(p, lon, lat) {
  const r = rho(lat);
  const d = (lon - p.lon0) * RAD;
  return p.y0 + p.by * (rho(p.lat0) - r) + p.sag * p.by * r * (1 - Math.cos(d));
}
/* base-map vertices are held just outside the panel so clipped geometry stays near the frame */
function pt(p, lon, lat) {
  const x = Math.min(p.right + BASE_MARGIN, Math.max(p.left - BASE_MARGIN, projectX(p, lon, lat)));
  const y = Math.min(p.bottom + BASE_MARGIN, Math.max(p.top - BASE_MARGIN, projectY(p, lon, lat)));
  return x.toFixed(1) + ',' + y.toFixed(1);
}
function alongLat(p, lat, lon1, lon2) {
  const out = [];
  const steps = Math.max(2, Math.ceil(Math.abs(lon2 - lon1)));
  for (let i = 0; i <= steps; i++) out.push(pt(p, lon1 + (lon2 - lon1) * i / steps, lat));
  return out;
}
function alongLon(p, lon, lat1, lat2) {
  const out = [];
  const steps = Math.max(2, Math.ceil(Math.abs(lat2 - lat1) * 2));
  for (let i = 0; i <= steps; i++) out.push(pt(p, lon, lat1 + (lat2 - lat1) * i / steps));
  return out;
}
function traced(p, lons, lats, from, to) {
  const out = [];
  const a = from === undefined ? 0 : from;
  const b = to === undefined ? lons.length : to;
  for (let i = a; i < b; i++) out.push(pt(p, lons[i], lats[i]));
  return out;
}
function leftTickY(p, lat) {
  const r = rho(lat);
  const d = Math.asin((p.left - p.x0) / (p.ax * r));
  return p.y0 + p.by * (rho(p.lat0) - r) + p.sag * p.by * r * (1 - Math.cos(d));
}
function bottomTickX(p, lon) {
  let lo = 58, hi = 74;
  for (let i = 0; i < 40; i++) {
    const mid = (lo + hi) / 2;
    if (projectY(p, lon, mid) < p.bottom) lo = mid; else hi = mid;
  }
  return projectX(p, lon, lo);
}
function radiusOf(p, v) { return p.sizeBase + p.sizeGain * Math.pow(v, 0.25); }

/* ---------- panel definitions ---------- */
const panels = [
 {key:'density-enrich', region:'enrich', clip:'clip-p1', left:86.7, top:60, right:974, bottom:455.7,
  x0:530.7, ax:6340, lon0:145, lat0:64.5, y0:111.7, by:6643, sag:0.9, sizeBase:2, sizeGain:0.41,
  lon:densityEnrichLon, lat:densityEnrichLat, value:densityEnrichValue, pings:densityEnrichPings, cluster:densityEnrichCluster,
  rightSolid:false,
  legend:{values:densityEnrichLegendValues, labels:densityEnrichLegendLabels, x:1017.7, y:110.7, w:69.6, h:330.3, cx:1052.3, tx:1100.7, font:19, rows:[130.3,170.7,215.3,270,333.3,404]}},
 {key:'energy-enrich', region:'enrich', clip:'clip-p2', left:91, top:608.5, right:1001, bottom:995.3,
  x0:546, ax:6527, lon0:145, lat0:64.5, y0:659.3, by:6485, sag:0.9, sizeBase:9, sizeGain:0.0058,
  lon:energyEnrichLon, lat:energyEnrichLat, value:energyEnrichValue, pings:energyEnrichPings, cluster:energyEnrichCluster,
  rightSolid:true,
  legend:{values:energyEnrichLegendValues, labels:energyEnrichLegendLabels, x:1046.7, y:596.4, w:97.3, h:447.5, cx:1095.3, tx:1157.5, font:20, rows:[615.9,667,735.1,814,900.8,996.2]}},
 {key:'density-tempo', region:'tempo', clip:'clip-p3', left:1343, top:63, right:2247, bottom:614,
  x0:1795.6, ax:3801, lon0:67.5, lat0:64, y0:251.5, by:3747, sag:0.93, sizeBase:8.7, sizeGain:0.00189,
  lon:densityTempoLon, lat:densityTempoLat, value:densityTempoValue, pings:densityTempoPings, cluster:densityTempoCluster,
  extended:false,
  legend:{values:densityTempoLegendValues, labels:densityTempoLegendLabels, x:2291.9, y:136.6, w:95.7, h:439.3, cx:2339.8, tx:2400.4, font:20, rows:[155.2,206,272.3,350,435.8,529]}},
 {key:'energy-tempo', region:'tempo', clip:'clip-p4', left:1342.5, top:761, right:2239.3, bottom:1335.3,
  x0:1792.1, ax:3757, lon0:67.5, lat0:64, y0:958.6, by:3896, sag:0.93, sizeBase:2, sizeGain:0.65,
  lon:energyTempoLon, lat:energyTempoLat, value:energyTempoValue, pings:energyTempoPings, cluster:energyTempoCluster,
  extended:true,
  legend:{values:energyTempoLegendValues, labels:energyTempoLegendLabels, x:2284.8, y:825.7, w:109.2, h:483.3, cx:2339, tx:2407.5, font:20, rows:[845.6,893.5,958.7,1041.4,1139.5,1250.8]}}
];

function drawRaster(p, parent) {
  const lons = p.region === 'enrich' ? enrichGridLons : tempoGridLons;
  const lats = p.region === 'enrich' ? enrichGridLats : tempoGridLats;
  const tone = p.region === 'enrich' ? enrichGridTone : tempoGridTone;
  const hx = (lons[1] - lons[0]) / 2;
  const hy = (lats[1] - lats[0]) / 2;
  const group = make('g', {filter:'url(#soft-' + p.region + ')'}, parent);
  
  
  lats.forEach(function (lat, r) {
    lons.forEach(function (lon, c) {
      const points = [pt(p, lon - hx, lat - hy), pt(p, lon + hx, lat - hy), pt(p, lon + hx, lat + hy), pt(p, lon - hx, lat + hy)].join(' ');
      const color = seaPalette[tone[r][c]];
      const cell = make('polygon', {points:points, fill:color, stroke:color, 'stroke-width':2}, group);
      
      
    });
  });
}

function drawBase(p, parent) {
  let shadePts, landA, landB, island;
  if (p.region === 'enrich') {
    shadePts = alongLon(p, 138, 63, 66.47)
      .concat(traced(p, enrichCoastLon, enrichCoastLat, 8))
      .concat([pt(p, 144.42, 67.8), pt(p, 150, 67.8)])
      .concat(alongLon(p, 150, 67.8, 63))
      .concat(alongLat(p, 63, 150, 138));
    landA = traced(p, enrichCoastLon, enrichCoastLat).concat([pt(p, 144.42, 67.8), pt(p, 130, 67.8), pt(p, 130, 66)]);
    landB = null;
    island = traced(p, enrichIslandLon, enrichIslandLat);
  } else {
    shadePts = alongLon(p, 55.3, 62, 65.93)
      .concat(traced(p, tempoWestCoastLon, tempoWestCoastLat, 4))
      .concat([pt(p, 69.7, 70), pt(p, 77.78, 70)])
      .concat(traced(p, tempoEastCoastLon, tempoEastCoastLat, 0, 4))
      .concat(alongLon(p, 79.7, 68.02, 64))
      .concat(alongLat(p, 64, 79.7, 73))
      .concat(alongLon(p, 73, 64, 62))
      .concat(alongLat(p, 62, 73, 55.3));
    landA = traced(p, tempoWestCoastLon, tempoWestCoastLat).concat([pt(p, 69.7, 70.5), pt(p, 45, 70.5), pt(p, 45, 66.3)]);
    landB = traced(p, tempoEastCoastLon, tempoEastCoastLat).concat([pt(p, 90, 67.1), pt(p, 90, 70.5), pt(p, 77.78, 70.5)]);
    island = traced(p, tempoIslandLon, tempoIslandLat);
  }
  const shade = make('polygon', {points:shadePts.join(' '), fill:'url(#box-shade)'}, parent);
  
  

  const land = make('polygon', {points:landA.join(' '), fill:'#f4f4f4'}, parent);
  
  
  if (landB) {
    const land2 = make('polygon', {points:landB.join(' '), fill:'#f2f2f2'}, parent);
    
    
  }
  const isle = make('polygon', {points:island.join(' '), fill:'#dadee0', stroke:'#000', 'stroke-width':1.5}, parent);
  
  
}

function drawGraticule(p, parent) {
  const latTicks = p.region === 'enrich' ? enrichLatTicks : tempoLatTicks;
  const lonTicks = p.region === 'enrich' ? enrichLonTicks : tempoLonTicks;
  const lonSpan = p.region === 'enrich' ? [130, 160] : [44, 92];
  latTicks.forEach(function (lat) {
    const line = make('polyline', {points:alongLat(p, lat, lonSpan[0], lonSpan[1]).join(' '), fill:'none', stroke:'#b0aba6', 'stroke-width':p.region === 'enrich' ? 2.4 : 2.6}, parent);
    
    
  });
  lonTicks.forEach(function (lon) {
    const line = make('polyline', {points:alongLon(p, lon, 58, 72).join(' '), fill:'none', stroke:'#b0aeac', 'stroke-width':2}, parent);
    
    
  });
}

function boxLine(points, style, parent) {
  const line = make('polyline', {points:points.join(' '), fill:'none', stroke:'#000', 'stroke-width':style.width, 'stroke-dasharray':style.dash}, parent);
  
  
}

function drawBoundaries(p, parent) {
  const dashed = {width:3.2, dash:'12 7'};
  if (p.region === 'enrich') {
    boxLine(alongLon(p, 138, 63, 66.47), dashed, parent);
    boxLine(alongLon(p, 150, 63, 67.8), p.rightSolid ? {width:3, dash:'none'} : {width:3.4, dash:'26 3'}, parent);
  } else if (!p.extended) {
    boxLine(alongLat(p, 62, 55.3, 73), dashed, parent);
    boxLine(alongLon(p, 73, 62, 64), dashed, parent);
    boxLine(alongLat(p, 64, 73, 79.7), dashed, parent);
    boxLine(alongLon(p, 79.7, 64, 68.02), dashed, parent);
    boxLine(alongLon(p, 55.3, 62, 65.93), {width:2.4, dash:'12 7'}, parent);
  } else {
    const longDash = {width:3.4, dash:'46 3'};
    boxLine(alongLat(p, 62, 48, 73), longDash, parent);
    boxLine(alongLon(p, 60.2, 60, 62), longDash, parent);
    boxLine(alongLon(p, 73, 60, 64), longDash, parent);
    boxLine(alongLat(p, 64, 73, 88), longDash, parent);
    boxLine(alongLon(p, 79.7, 64, 68.02), {width:3, dash:'none'}, parent);
    boxLine(alongLon(p, 55.3, 62, 65.93), {width:2.2, dash:'12 7'}, parent);
  }
}

function coastLine(points, width, parent) {
  const line = make('polyline', {points:points.join(' '), fill:'none', stroke:'#000', 'stroke-width':width, 'stroke-linejoin':'round'}, parent);
  
  
}

function drawCoast(p, parent) {
  if (p.region === 'enrich') {
    coastLine(traced(p, enrichCoastLon, enrichCoastLat), 2.2, parent);
  } else {
    coastLine(traced(p, tempoWestCoastLon, tempoWestCoastLat), 2.2, parent);
    coastLine(traced(p, tempoEastCoastLon, tempoEastCoastLat), 2.2, parent);
    coastLine(traced(p, tempoInlandLon, tempoInlandLat), 1.5, parent);
    coastLine(traced(p, tempoWestInlandLon, tempoWestInlandLat), 1.5, parent);
  }
}

function drawPoints(p, parent) {
  const group = make('g', {}, parent);
  
  
  p.lon.forEach(function (lon, i) {
    const c = make('circle', {
      cx:projectX(p, lon, p.lat[i]).toFixed(1),
      cy:projectY(p, lon, p.lat[i]).toFixed(1),
      r:radiusOf(p, p.value[i]).toFixed(1),
      fill:clusterColors[p.cluster[i] - 1],
      'fill-opacity':(1 - Math.pow(0.6, p.pings[i])).toFixed(3)
    }, group);
    
    
  });
}

function drawAxes(p, parent) {
  const latTicks = p.region === 'enrich' ? enrichLatTicks : tempoLatTicks;
  const latLabels = p.region === 'enrich' ? enrichLatLabels : tempoLatLabels;
  const lonTicks = p.region === 'enrich' ? enrichLonTicks : tempoLonTicks;
  const lonLabels = p.region === 'enrich' ? enrichLonLabels : tempoLonLabels;
  latTicks.forEach(function (lat, i) {
    const y = leftTickY(p, lat);
    const tick = make('line', {x1:p.left - 6, x2:p.left, y1:y, y2:y, stroke:'#333', 'stroke-width':1.6}, parent);
    
    
    const label = make('text', {x:p.left - 10, y:y + 7, 'text-anchor':'end', 'font-size':19.5, fill:'#4d4d4d'}, parent);
    
    
    label.textContent = latLabels[i];
  });
  lonTicks.forEach(function (lon, i) {
    const x = bottomTickX(p, lon);
    const tick = make('line', {x1:x, x2:x, y1:p.bottom, y2:p.bottom + 6, stroke:'#333', 'stroke-width':1.6}, parent);
    
    
    const ly = p.bottom + 13;
    const label = make('text', {x:x + 7, y:ly, 'text-anchor':'end', 'font-size':19.5, fill:'#4d4d4d', transform:'rotate(-90 ' + (x + 7).toFixed(1) + ' ' + ly.toFixed(1) + ')'}, parent);
    
    
    label.textContent = lonLabels[i];
  });
  const frame = make('rect', {x:p.left, y:p.top, width:p.right - p.left, height:p.bottom - p.top, fill:'none', stroke:'#333', 'stroke-width':2}, parent);
  
  
}

function drawLegend(p, parent) {
  const L = p.legend;
  const group = make('g', {}, parent);
  
  
  const bg = make('rect', {x:L.x, y:L.y, width:L.w, height:L.h, fill:'#f7f7f7'}, group);
  
  
  L.values.forEach(function (v, i) {
    const key = make('circle', {cx:L.cx, cy:L.rows[i], r:radiusOf(p, v).toFixed(1), fill:'#a9a9a9', stroke:'#949494', 'stroke-width':1.6}, group);
    
    
    const label = make('text', {x:L.tx, y:L.rows[i] + 7, 'font-size':L.font, fill:'#000'}, group);
    
    
    label.textContent = L.labels[i];
  });
}

panels.forEach(function (p) {
  const panel = make('g', {}, svg);
  
  
  const map = make('g', {'clip-path':'url(#' + p.clip + ')'}, panel);
  
  
  const ocean = make('rect', {x:p.left, y:p.top, width:p.right - p.left, height:p.bottom - p.top, fill:'#8cc9f0'}, map);
  
  
  drawRaster(p, map);
  drawBase(p, map);
  drawGraticule(p, map);
  drawBoundaries(p, map);
  drawCoast(p, map);
  drawPoints(p, map);
  drawAxes(p, panel);
  drawLegend(p, panel);
});
</script>
</body>
</html>
